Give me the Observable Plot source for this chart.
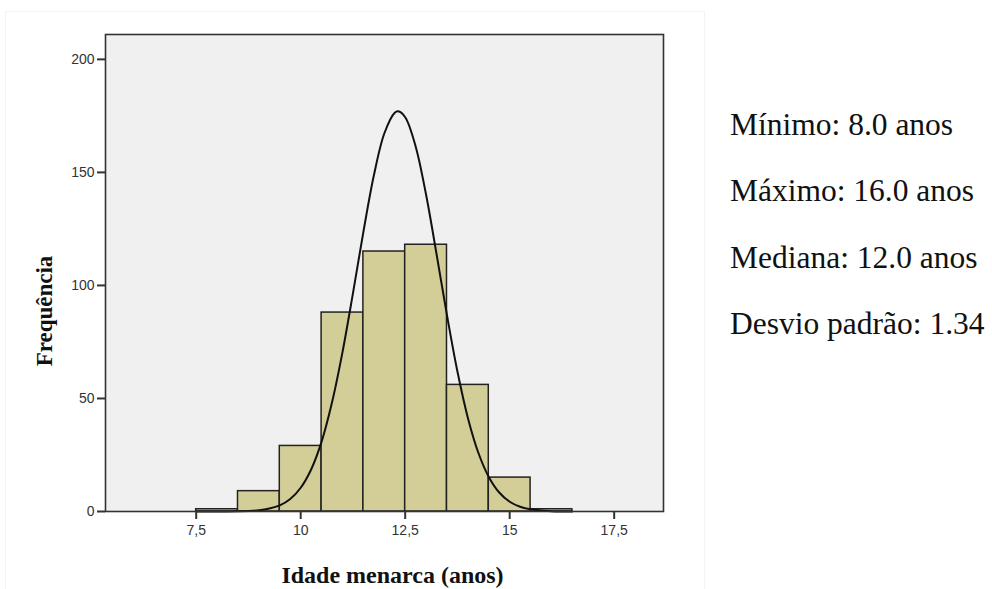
<!DOCTYPE html>
<html>
<head>
<meta charset="utf-8">
<script src="https://cdn.jsdelivr.net/npm/d3@7"></script>
<script src="https://cdn.jsdelivr.net/npm/@observablehq/plot@0.6"></script>
<style>
  html, body { margin: 0; padding: 0; background: #ffffff; }
  #wrap { position: relative; width: 992px; height: 589px; overflow: hidden; }
  #chart { position: absolute; left: 0; top: 0; }
  #faint { position: absolute; left: 5px; top: 11px; width: 700px; height: 580px; border: 1px solid #f3f3f3; box-sizing: border-box; }
  .stat { position: absolute; left: 730px; font-family: "Liberation Serif", "Times New Roman", serif; font-size: 31.5px; color: #111; white-space: nowrap; line-height: 1; }
</style>
</head>
<body>
<div id="wrap">
  <div id="faint"></div>
  <div id="chart"></div>
</div>
<script>
// ---- data ----
const binCenters = [8, 9, 10, 11, 12, 13, 14, 15, 16];
const binCounts  = [1, 9, 29, 88, 115, 118, 56, 15, 1];
const binWidth = 1;

const curveX = [7.5, 8, 8.5, 9, 9.25, 9.5, 9.75, 10, 10.25, 10.5, 10.75, 11, 11.25, 11.5, 11.75, 12, 12.25, 12.33, 12.5, 12.75, 13, 13.25, 13.5, 13.75, 14, 14.25, 14.5, 14.75, 15, 15.25, 15.5, 16, 16.5];
const curveY = [0, 0.01, 0.1, 0.55, 1.3, 2.7, 5.5, 10.5, 18.6, 30.9, 48.3, 70.5, 96.5, 123.7, 148.6, 167.2, 176.4, 177, 174.4, 161.5, 140.1, 113.9, 86.8, 61.9, 41.4, 26.0, 15.3, 8.4, 4.3, 2.1, 0.95, 0.16, 0.02];

const xTicks = [7.5, 10, 12.5, 15, 17.5];
const yTicks = [0, 50, 100, 150, 200];
const xDomain = [5.33, 18.68];
const yDomain = [0, 211];

const xTitle = "Idade menarca (anos)";
const yTitle = "Frequência";
const statLines = ["Mínimo: 8.0 anos", "Máximo: 16.0 anos", "Mediana: 12.0 anos", "Desvio padrão: 1.34"];

// ---- build tables ----
const bars = binCenters.map((c, i) => ({x1: c - binWidth / 2, x2: c + binWidth / 2, y: binCounts[i]}));
const curve = curveX.map((x, i) => ({x, y: curveY[i]}));
const fmtComma = d => String(d).replace(".", ",");
const serif = "'Liberation Serif', 'Times New Roman', serif";

const plot = Plot.plot({
  width: 700,
  height: 589,
  marginLeft: 105,
  marginRight: 37,
  marginTop: 34,
  marginBottom: 78,
  style: {background: "transparent", fontFamily: "'Liberation Sans', Arial, sans-serif", fontSize: "14px"},
  x: {domain: xDomain, ticks: xTicks, tickFormat: fmtComma, label: null},
  y: {domain: yDomain, ticks: yTicks, label: null},
  marks: [
    Plot.frame({fill: "#f0f0f0", stroke: null}),
    Plot.rectY(bars, {x1: "x1", x2: "x2", y: "y", fill: "#d3ce97", stroke: "#222", strokeWidth: 1.5}),
    Plot.line(curve, {x: "x", y: "y", stroke: "#111", strokeWidth: 2, curve: "catmull-rom"}),
    Plot.frame({stroke: "#333", strokeWidth: 1.6}),
    Plot.axisX({ticks: xTicks, tickFormat: fmtComma, tickSize: 8, tickPadding: 6, fontSize: 14, color: "#333", stroke: "#333", strokeWidth: 2, label: null}),
    Plot.axisY({ticks: yTicks, tickSize: 8, tickPadding: 3, fontSize: 14, color: "#333", stroke: "#333", strokeWidth: 2, label: null}),
    Plot.text([xTitle], {frameAnchor: "bottom", text: d => d, textAnchor: "middle", dx: 8, dy: 71, lineAnchor: "bottom", fontSize: 24, fontWeight: "bold", fontFamily: serif, fill: "#111"}),
    Plot.text([yTitle], {frameAnchor: "left", text: d => d, textAnchor: "middle", lineAnchor: "middle", dx: -61, dy: 38, rotate: -90, fontSize: 23, fontWeight: "bold", fontFamily: serif, fill: "#111"})
  ]
});
document.getElementById("chart").appendChild(plot);

// stats on the right
const baselines = [135, 201, 268, 334];
statLines.forEach((t, i) => {
  const d = document.createElement("div");
  d.className = "stat";
  d.textContent = t;
  d.style.top = (baselines[i] - 26) + "px";
  document.getElementById("wrap").appendChild(d);
});
</script>
</body>
</html>
